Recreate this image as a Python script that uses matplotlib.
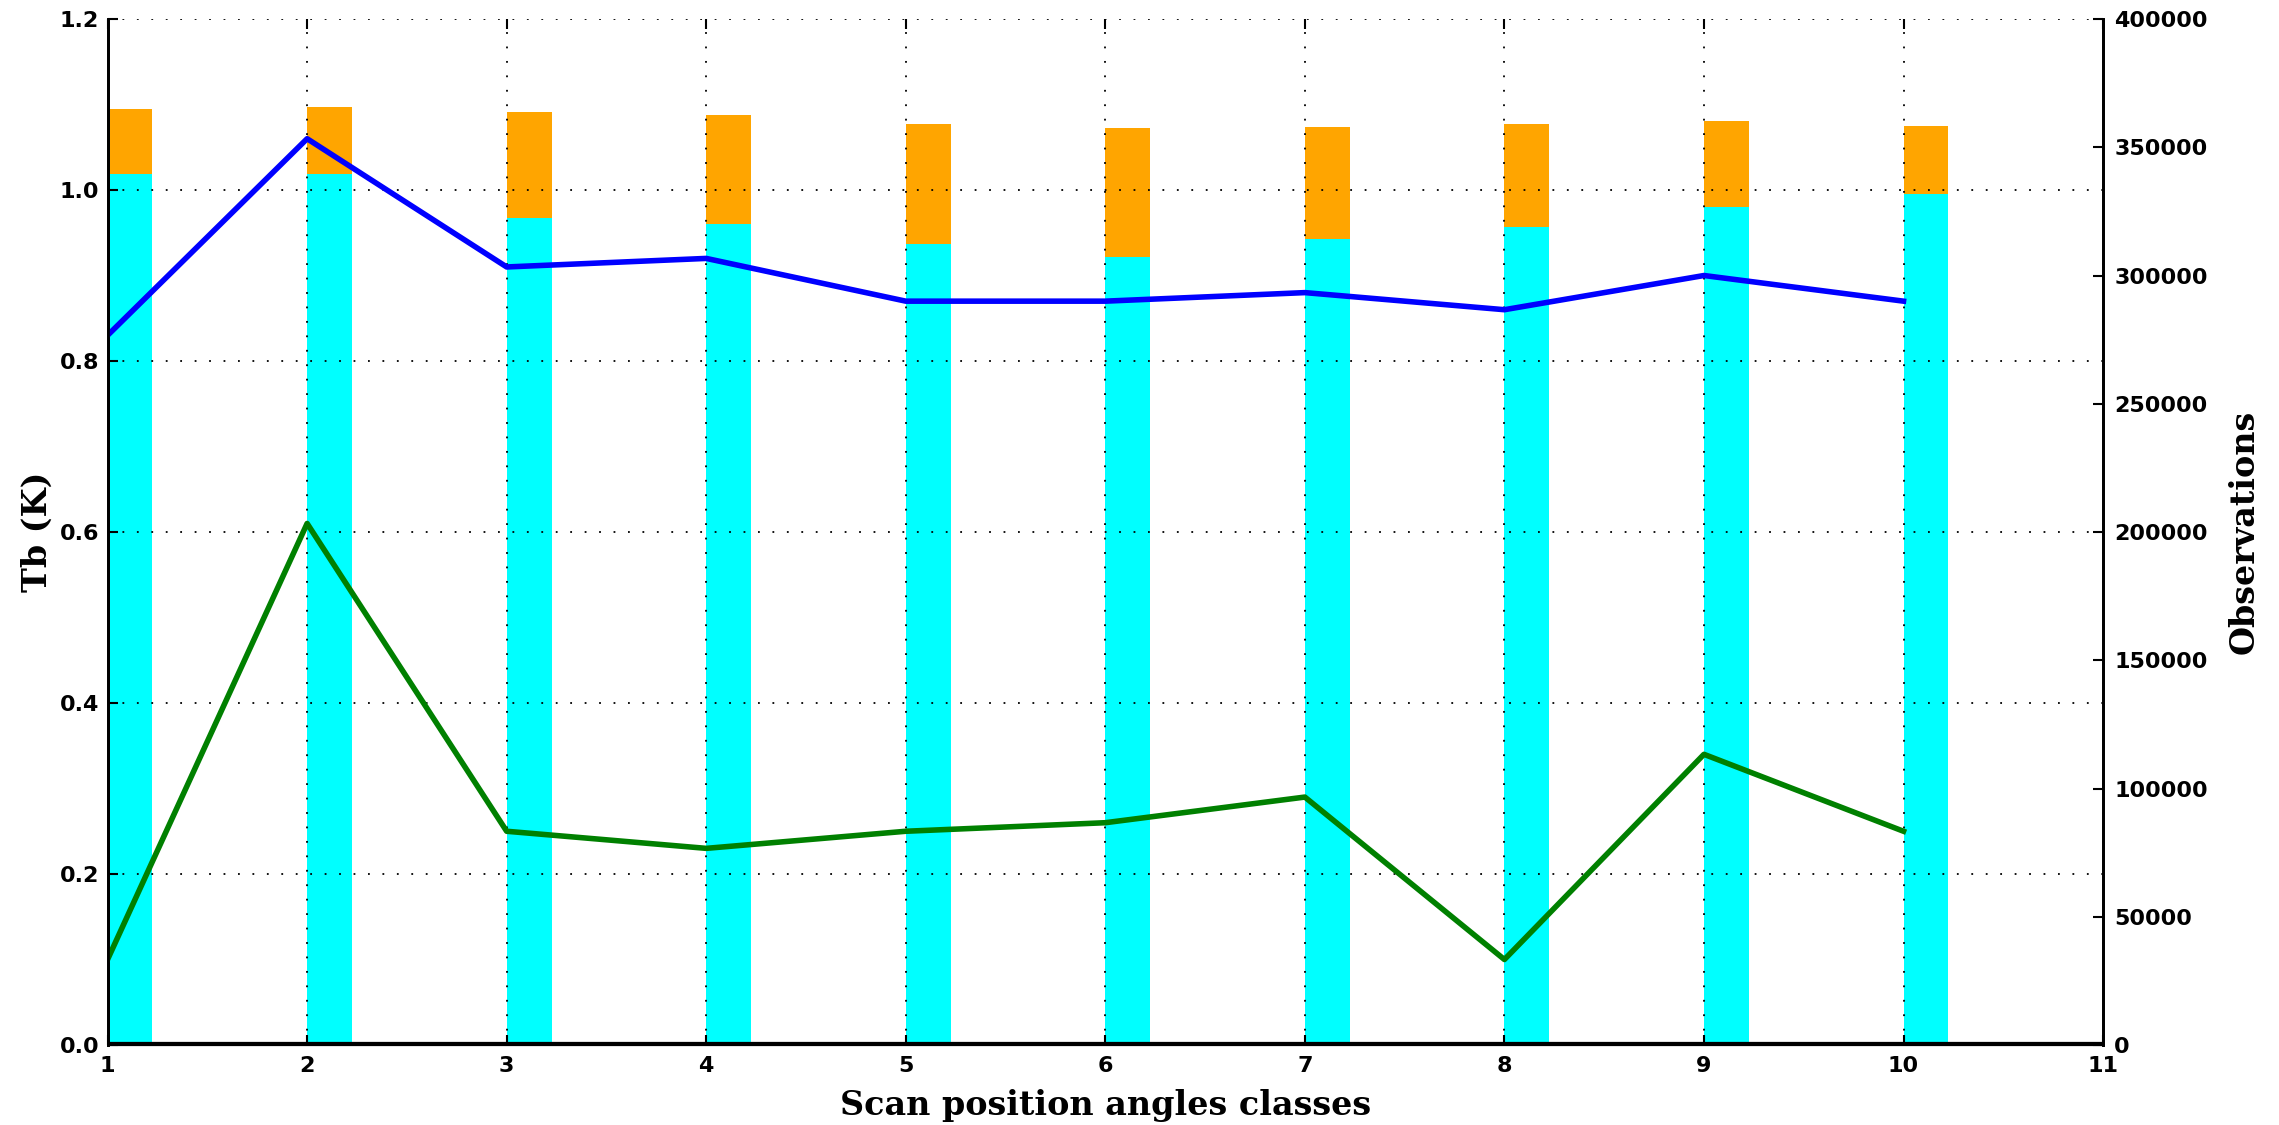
import matplotlib
matplotlib.use("Agg")
import matplotlib.pyplot as plt

# scan position classes
classes = [1, 2, 3, 4, 5, 6, 7, 8, 9, 10]

# Tb statistics (K), left axis
blue_vals = [0.83, 1.06, 0.91, 0.92, 0.87, 0.87, 0.88, 0.86, 0.90, 0.87]
green_vals = [0.10, 0.61, 0.25, 0.23, 0.25, 0.26, 0.29, 0.10, 0.34, 0.25]

# observation counts, right axis
obs_total = [365000, 365600, 363900, 362700, 359100, 357700, 357800, 359000, 360400, 358200]
obs_used = [339500, 339400, 322600, 319900, 312200, 307300, 314400, 319100, 326700, 331900]

xticks = [1, 2, 3, 4, 5, 6, 7, 8, 9, 10, 11]


def plot_scan():
    fig = plt.figure(figsize=(22.79, 11.25), dpi=100)
    ax = fig.add_axes([0.0472, 0.0711, 0.8756, 0.912])
    ax2 = ax.twinx()

    # bars go on the right axis, behind the lines and the grid
    ax2.bar(classes, obs_total, width=0.225, align="edge", color="orange", linewidth=0)
    ax2.bar(classes, obs_used, width=0.225, align="edge", color="cyan", linewidth=0)
    ax2.set_ylim(0, 400000)
    ax2.set_yticks(range(0, 400001, 50000))

    ax.set_zorder(ax2.get_zorder() + 1)
    ax.patch.set_visible(False)

    ax.plot(classes, blue_vals, color="blue", lw=4)
    ax.plot(classes, green_vals, color="green", lw=4)
    ax.axhline(0, color="black", lw=4.5)

    ax.set_xlim(1, 11)
    ax.set_ylim(0, 1.2)
    ax.set_xticks(xticks)
    ax.set_yticks([0.0, 0.2, 0.4, 0.6, 0.8, 1.0, 1.2])
    ax.set_yticklabels(["0.0", "0.2", "0.4", "0.6", "0.8", "1.0", "1.2"])
    ax.grid(True, color="black", linestyle=(0, (1, 7)), lw=1.3)

    for a in (ax, ax2):
        a.spines["top"].set_visible(False)
        a.spines["left"].set_linewidth(2)
        a.spines["right"].set_linewidth(2)
        a.tick_params(direction="in", length=7, width=1.5, labelsize=16)
        for lab in a.get_xticklabels() + a.get_yticklabels():
            lab.set_fontweight("bold")
    ax.tick_params(axis="x", top=True, pad=8)
    ax.tick_params(axis="y", pad=6)
    ax2.tick_params(axis="y", pad=8)

    ax.set_xlabel("Scan position angles classes", family="DejaVu Serif",
                  fontweight="bold", fontsize=24, labelpad=9)
    ax.set_ylabel("Tb (K)", family="DejaVu Serif", fontweight="bold", fontsize=24)
    ax2.set_ylabel("Observations", family="DejaVu Serif", fontweight="bold",
                   fontsize=24, labelpad=14)

    fig.savefig("out.png", dpi=100)


if __name__ == "__main__":
    plot_scan()
